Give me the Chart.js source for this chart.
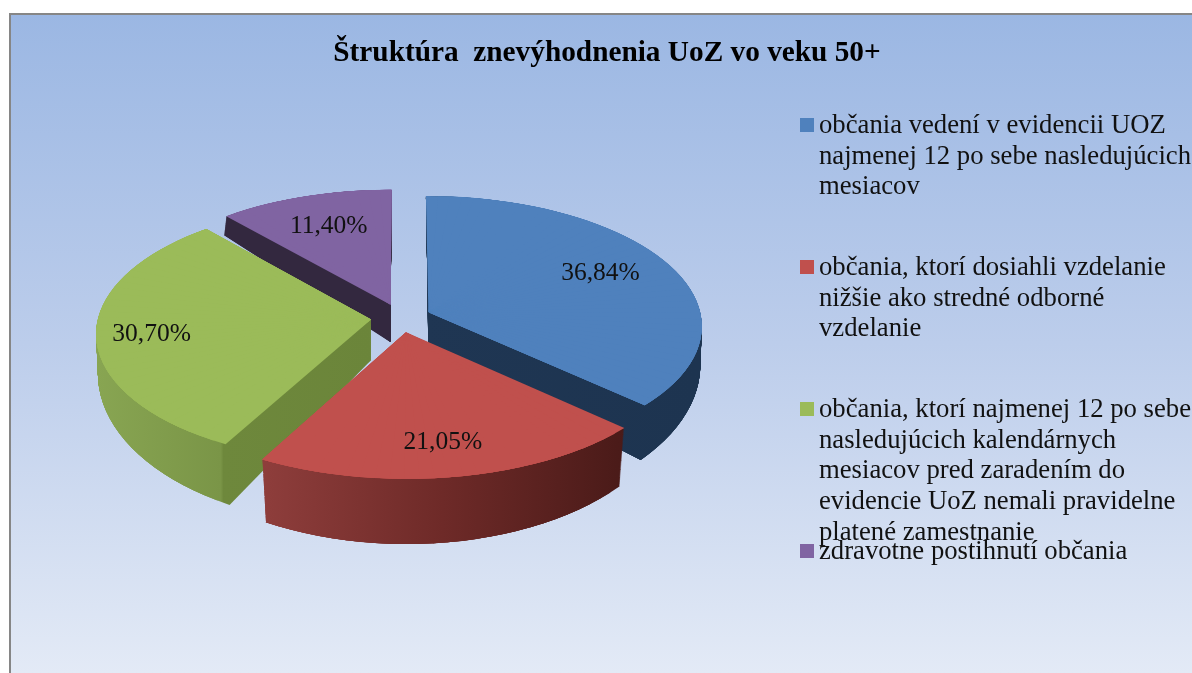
<!DOCTYPE html>
<html><head><meta charset="utf-8">
<style>html,body{margin:0;padding:0;background:#fff;overflow:hidden}canvas{display:block}</style>
<script src="https://cdn.jsdelivr.net/npm/chart.js@4/dist/chart.umd.js"></script>
</head><body>
<canvas id="c" width="1192" height="673"></canvas>
<script>
const chartTitle = 'Štruktúra  znevýhodnenia UoZ vo veku 50+';
const categories = [
  ['občania vedení v evidencii UOZ','najmenej 12 po sebe nasledujúcich','mesiacov'],
  ['občania, ktorí dosiahli vzdelanie','nižšie ako stredné odborné','vzdelanie'],
  ['občania, ktorí najmenej 12 po sebe','nasledujúcich kalendárnych','mesiacov pred zaradením do','evidencie UoZ nemali pravidelne','platené zamestnanie'],
  ['zdravotne postihnutí občania']
];
const shares = [36.84, 21.05, 30.70, 11.40];
const colors = ['#4f81bd','#c0504d','#9bbb59','#8064a2'];

// side-wall shading: gradient stops along x
const sideShades = [
  {x0:420,x1:700,stops:[[0,'#1f3653'],[1,'#1d3450']]},
  {x0:258,x1:628,stops:[[0,'#8f3e3c'],[0.5,'#6e2a28'],[1,'#491a18']]},
  {x0:97,x1:372,stops:[[0,'#88a552'],[0.45,'#7a9547'],[0.46,'#6e883c'],[1,'#6b853a']]},
  {x0:230,x1:392,stops:[[0,'#33283f'],[1,'#33283f']]}
];
// view model of the tilted pie
const camera = {
  top:{u0:401,v0:318,F:273,G:129,p:0.10},
  bottom:{u0:401,v0:358,F:272,G:153,p:0.08}
};
const explode = 0.11, paintOrder = [3,0,2,1], wallSteps = 60;
const labelRadius = 0.8, labelNudge = [[-20,1],[-3,-3],[0,3],[8,10]];
const font = 'Liberation Serif, Times New Roman, serif';

function project(t,X,Y){
  const a=camera.top,b=camera.bottom,k=n=>a[n]+(b[n]-a[n])*t;
  const w=1-k('p')*Y;
  return [k('u0')+k('F')*X/w, k('v0')+k('G')*Y/w];
}
function drawArcProjected(ctx,arc,t,fill){
  const s=arc.startAngle,e=arc.endAngle,mid=(s+e)/2,R=arc.outerRadius,cx=arc.x,cy=arc.y;
  const ox=Math.cos(mid)*explode,oy=Math.sin(mid)*explode;
  const n=Math.ceil((e-s)/0.05),da=(e-s)/n;
  const saved={startAngle:s,endAngle:e,circumference:arc.circumference};
  const prev=arc.options.backgroundColor, prevB=arc.options.borderWidth;
  arc.options.backgroundColor=fill; arc.options.borderWidth=0;
  const D0=project(t,ox,oy);
  for(let i=0;i<n;i++){
    const a0=s+i*da,a1=Math.min(e,a0+da+0.15);
    const D1=project(t,ox+Math.cos(a0),oy+Math.sin(a0));
    const D2=project(t,ox+Math.cos(a1),oy+Math.sin(a1));
    const l1x=R*Math.cos(a0),l1y=R*Math.sin(a0),l2x=R*Math.cos(a1),l2y=R*Math.sin(a1);
    const det=l1x*l2y-l2x*l1y;
    const d1x=D1[0]-D0[0],d1y=D1[1]-D0[1],d2x=D2[0]-D0[0],d2y=D2[1]-D0[1];
    const ma=(d1x*l2y-d2x*l1y)/det, mc=(-d1x*l2x+d2x*l1x)/det;
    const mb=(d1y*l2y-d2y*l1y)/det, md=(-d1y*l2x+d2y*l1x)/det;
    ctx.save();
    ctx.setTransform(ma,mb,mc,md,D0[0]-ma*cx-mc*cy,D0[1]-mb*cx-md*cy);
    arc.startAngle=a0;arc.endAngle=a1;arc.circumference=a1-a0;
    arc.draw(ctx);
    ctx.restore();
  }
  Object.assign(arc,saved);
  arc.options.backgroundColor=prev; arc.options.borderWidth=prevB;
}
const pie3d={
  id:'pie3d',
  beforeDraw(chart){
    const ctx=chart.ctx,W=chart.width,H=chart.height;
    ctx.save();
    const g=ctx.createLinearGradient(0,14,0,H);
    g.addColorStop(0,'#9bb7e3');g.addColorStop(0.5,'#bccdeb');g.addColorStop(1,'#e3eaf6');
    ctx.fillStyle='#fff';ctx.fillRect(0,0,W,H);
    ctx.fillStyle=g;ctx.fillRect(10,14,W-10,H-14);
    ctx.fillStyle='#868686';ctx.fillRect(9,13,W-9,2);ctx.fillRect(9,13,2,H-13);
    ctx.restore();
  },
  beforeDatasetDraw(chart){
    const ctx=chart.ctx,arcs=chart.getDatasetMeta(0).data;
    const off=document.createElement('canvas');off.width=chart.width;off.height=chart.height;
    const oc=off.getContext('2d');
    for(const i of paintOrder){
      const arc=arcs[i],sh=sideShades[i];
      oc.globalCompositeOperation='source-over';
      oc.clearRect(0,0,off.width,off.height);
      for(let k=wallSteps;k>=1;k--) drawArcProjected(oc,arc,k/wallSteps,'#000');
      const g=oc.createLinearGradient(sh.x0,0,sh.x1,0);
      sh.stops.forEach(s=>g.addColorStop(s[0],s[1]));
      oc.globalCompositeOperation='source-atop';
      oc.fillStyle=g;oc.fillRect(0,0,off.width,off.height);
      ctx.drawImage(off,0,0);
      drawArcProjected(ctx,arc,0,colors[i]);
    }
    return false;
  },
  afterDraw(chart){
    const ctx=chart.ctx,arcs=chart.getDatasetMeta(0).data;
    ctx.save();
    ctx.fillStyle='#111';ctx.textBaseline='middle';
    ctx.font='25.5px '+font;ctx.textAlign='center';
    arcs.forEach((arc,i)=>{
      const mid=(arc.startAngle+arc.endAngle)/2,r=explode+labelRadius;
      const p=project(0,Math.cos(mid)*r,Math.sin(mid)*r);
      ctx.fillText(shares[i].toFixed(2).replace('.',',')+'%',p[0]+labelNudge[i][0],p[1]+labelNudge[i][1]);
    });
    ctx.textAlign='left';ctx.font='26.7px '+font;
    categories.forEach((lines,i)=>{
      const y=125+i*142;
      ctx.fillStyle=colors[i];ctx.fillRect(800,y-7,14,14);
      ctx.fillStyle='#111';
      lines.forEach((t,j)=>ctx.fillText(t,819,y+1+j*30.7));
    });
    ctx.restore();
  }
};
new Chart(document.getElementById('c'),{
  type:'pie',
  data:{labels:categories.map(l=>l.join(' ')),datasets:[{data:shares,backgroundColor:colors,borderWidth:0}]},
  options:{
    responsive:false,animation:false,
    layout:{padding:{left:22}},
    plugins:{
      legend:{display:false},tooltip:{enabled:false},
      title:{display:true,text:chartTitle,color:'#000',font:{family:font,size:29.3,weight:'bold'},padding:{top:36,bottom:10}}
    }
  },
  plugins:[pie3d]
});
</script>
</body></html>
